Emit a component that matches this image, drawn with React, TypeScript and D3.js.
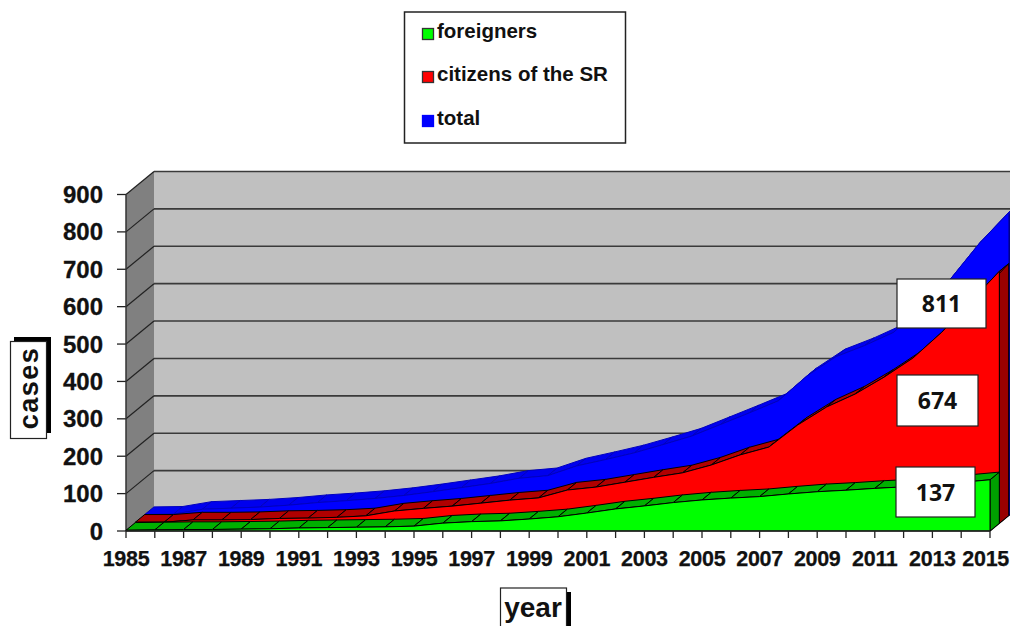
import React from 'react';
import * as d3 from 'd3';

const years = d3.range(1985, 2016);
const yTicks = [0, 100, 200, 300, 400, 500, 600, 700, 800, 900];
const foreigners = [2, 3, 4, 4, 5, 6, 8, 9, 10, 11, 13, 21, 25, 27, 32, 38, 48, 59, 67, 76, 83, 88, 92, 99, 105, 109, 114, 118, 124, 130, 137];
const citizens = [3, 3, 9, 9, 10, 13, 14, 16, 20, 33, 40, 46, 54, 62, 68, 89, 97, 110, 123, 135, 156, 183, 204, 263, 311, 346, 391, 442, 511, 593, 674];
const total = [3, 4, 17, 20, 23, 28, 35, 40, 46, 54, 64, 75, 86, 100, 107, 133, 150, 168, 190, 213, 244, 275, 307, 374, 425, 455, 490, 560, 635, 730, 811];

const x = d3.scaleLinear().domain([1985, 2015]).range([126, 990]);
const y = d3.scaleLinear().domain([0, 900]).range([531, 194.5]);

// depth of the 3d box, split in three layers
const depthX = 28;
const depthY = -23;
const layerX = depthX / 3;
const layerY = depthY / 3;

const layers = [
  { name: 'total', values: total, k: 2, face: '#0000ff', top: '#0000ee', side: '#000099', stroke: '#0000c0' },
  { name: 'citizens', values: citizens, k: 1, face: '#ff0000', top: '#b00000', side: '#990000', stroke: '#000' },
  { name: 'foreigners', values: foreigners, k: 0, face: '#00ff00', top: '#00b000', side: '#00a000', stroke: '#000' },
];

const legendItems = [
  { label: 'foreigners', color: '#00ff00', border: '#333', top: 28 },
  { label: 'citizens of the SR', color: '#ff0000', border: '#333', top: 71 },
  { label: 'total', color: '#0000ff', border: '#0000ff', top: 115 },
];

const valueBoxes = [
  { label: '811', x: 897, y: 279, w: 89, h: 49 },
  { label: '674', x: 897, y: 375, w: 81, h: 51 },
  { label: '137', x: 896, y: 467, w: 79, h: 50 },
];

const axisFont = '"Liberation Sans", Arial, sans-serif';

const poly = (pts: number[][]) => pts.map((p) => p.join(',')).join(' ');

const Layer = ({ layer }: { layer: (typeof layers)[number] }) => {
  const ox = layer.k * layerX;
  const oy = layer.k * layerY;
  const px = (i: number, d = 0) => x(years[i]) + ox + d * layerX;
  const py = (v: number, d = 0) => y(v) + oy + d * layerY;
  const last = years.length - 1;
  const area = d3
    .area<number>()
    .x((_, i) => px(i))
    .y0(y(0) + oy)
    .y1((v) => py(v));
  return (
    <g>
      <polygon
        points={poly([
          [px(last), y(0) + oy],
          [px(last, 1), y(0) + oy + layerY],
          [px(last, 1), py(layer.values[last], 1)],
          [px(last), py(layer.values[last])],
        ])}
        fill={layer.side}
        stroke="#000"
        strokeWidth={1}
      />
      {layer.values.slice(0, -1).map((v, i) => (
        <polygon
          key={i}
          points={poly([
            [px(i), py(v)],
            [px(i + 1), py(layer.values[i + 1])],
            [px(i + 1, 1), py(layer.values[i + 1], 1)],
            [px(i, 1), py(v, 1)],
          ])}
          fill={layer.top}
          stroke={layer.stroke}
          strokeWidth={1}
        />
      ))}
      <path d={area(layer.values) ?? ''} fill={layer.face} stroke={layer.stroke} strokeWidth={1} />
    </g>
  );
};

export default function App() {
  const floorY = y(0);
  return (
    <svg
      width={1010}
      height={626}
      style={{ position: 'absolute', left: 0, top: 0, display: 'block', background: '#fff' }}
    >
      {/* legend */}
      <rect x={404.5} y={12} width={221} height={131} fill="#fff" stroke="#222" strokeWidth={1.5} />
      {legendItems.map((d) => (
        <g key={d.label}>
          <rect x={422.5} y={d.top + 0.5} width={11} height={11} fill={d.color} stroke={d.border} strokeWidth={1.3} />
          <text x={437} y={d.top + 10} fontFamily={axisFont} fontWeight="bold" fontSize={20.5} fill="#111">
            {d.label}
          </text>
        </g>
      ))}

      {/* walls */}
      <polygon
        points={poly([
          [x(1985), y(900)],
          [x(1985) + depthX, y(900) + depthY],
          [x(1985) + depthX, floorY + depthY],
          [x(1985), floorY],
        ])}
        fill="#808080"
      />
      <rect x={x(1985) + depthX} y={y(900) + depthY} width={900} height={floorY - y(900)} fill="#c0c0c0" />
      {yTicks.map((t) => (
        <g key={t}>
          <line
            x1={x(1985) + depthX}
            x2={1020}
            y1={y(t) + depthY}
            y2={y(t) + depthY}
            stroke="#3a3a3a"
            strokeWidth={1.6}
          />
          <line
            x1={x(1985)}
            x2={x(1985) + depthX}
            y1={y(t)}
            y2={y(t) + depthY}
            stroke="#222"
            strokeWidth={1.2}
          />
          <line x1={x(1985) - 9} x2={x(1985)} y1={y(t)} y2={y(t)} stroke="#222" strokeWidth={1.3} />
          <text
            x={103}
            y={y(t) + 8.5}
            textAnchor="end"
            fontFamily={axisFont}
            fontWeight="bold"
            fontSize={24}
            stroke="#111"
            strokeWidth={0.3}
            fill="#111"
          >
            {t}
          </text>
        </g>
      ))}
      <line x1={x(1985)} x2={x(1985)} y1={y(900)} y2={floorY} stroke="#333" strokeWidth={1.5} />
      <line x1={x(2015)} x2={x(2015) + depthX} y1={floorY} y2={floorY + depthY} stroke="#222" strokeWidth={1.2} />

      {layers.map((l) => (
        <Layer key={l.name} layer={l} />
      ))}

      {/* x axis */}
      <line x1={x(1985)} x2={x(2015)} y1={floorY} y2={floorY} stroke="#222" strokeWidth={1.3} />
      {years.map((yr, i) => (
        <g key={yr}>
          <line x1={x(yr)} x2={x(yr)} y1={floorY} y2={floorY + 7} stroke="#222" strokeWidth={1.3} />
          {i % 2 === 0 && (
            <text
              x={yr === 2015 ? 1009 : x(yr)}
              y={566}
              textAnchor={yr === 2015 ? 'end' : 'middle'}
              fontFamily={axisFont}
              fontWeight="bold"
              fontSize={21.5}
              letterSpacing={-0.3}
              stroke="#111"
              strokeWidth={0.25}
              fill="#111"
            >
              {yr}
            </text>
          )}
        </g>
      ))}

      {/* value labels */}
      {valueBoxes.map((b) => (
        <g key={b.label}>
          <rect x={b.x} y={b.y} width={b.w} height={b.h} fill="#fff" stroke="#222" strokeWidth={1.2} />
          <text
            x={b.x + b.w / 2}
            y={b.y + b.h / 2 + 8.5}
            textAnchor="middle"
            fontFamily='"Open Sans", sans-serif'
            fontWeight="bold"
            fontSize={23}
            fill="#111"
          >
            {b.label}
          </text>
        </g>
      ))}

      {/* axis titles */}
      <rect x={14} y={337} width={37} height={96} fill="#000" />
      <rect x={10.5} y={341.5} width={36} height={97} fill="#fff" stroke="#222" strokeWidth={1.2} />
      <text
        transform="translate(38,388) rotate(-90)"
        textAnchor="middle"
        fontFamily={axisFont}
        fontWeight="bold"
        fontSize={27}
        letterSpacing={1.5}
        fill="#111"
      >
        cases
      </text>
      <rect x={504} y={592} width={67} height={40} fill="#000" />
      <rect x={500.5} y={588} width={66} height={40} fill="#fff" stroke="#222" strokeWidth={1.2} />
      <text
        x={533}
        y={617}
        textAnchor="middle"
        fontFamily={axisFont}
        fontWeight="bold"
        fontSize={28}
        fill="#111"
      >
        year
      </text>
    </svg>
  );
}
